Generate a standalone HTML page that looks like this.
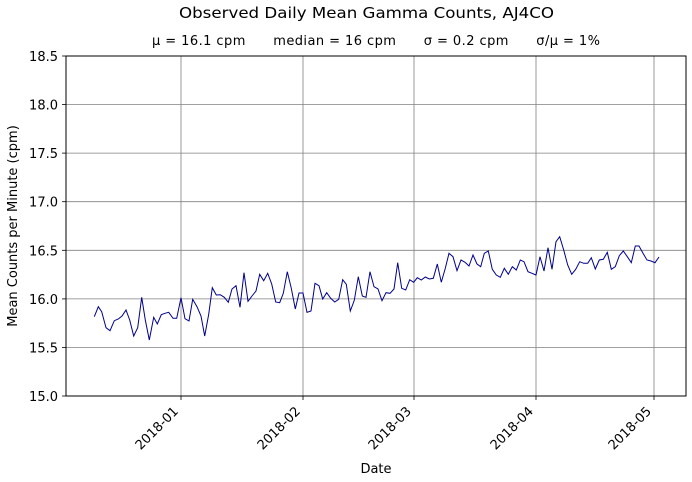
<!DOCTYPE html>
<html><head><meta charset="utf-8"><style>body{margin:0;background:#fff}svg{display:block;font-family:"DejaVu Sans","Liberation Sans",sans-serif}</style></head><body>
<svg width="692" height="482" viewBox="0 0 692 482">
<rect width="692" height="482" fill="#fff"/>
<text x="179" y="18" font-size="15.5" textLength="375" lengthAdjust="spacingAndGlyphs">Observed Daily Mean Gamma Counts, AJ4CO</text>
<text x="152" y="45" font-size="13" textLength="448" xml:space="preserve">μ = 16.1 cpm      median = 16 cpm      σ = 0.2 cpm      σ/μ = 1%</text>
<g stroke="#808080" stroke-width="0.8">
<line x1="66" x2="686" y1="104.6" y2="104.6"/><line x1="66" x2="686" y1="153.1" y2="153.1"/><line x1="66" x2="686" y1="201.7" y2="201.7"/><line x1="66" x2="686" y1="250.3" y2="250.3"/><line x1="66" x2="686" y1="298.9" y2="298.9"/><line x1="66" x2="686" y1="347.4" y2="347.4"/>
<line x1="181" x2="181" y1="56" y2="396"/><line x1="303" x2="303" y1="56" y2="396"/><line x1="414" x2="414" y1="56" y2="396"/><line x1="536" x2="536" y1="56" y2="396"/><line x1="654" x2="654" y1="56" y2="396"/>
</g>
<polyline fill="none" stroke="#00008b" stroke-width="1" points="94.3,316.7 98.3,306.7 101.7,311.7 106,327.7 110,330.7 114.3,320.7 118.3,319 122,316 126,310 129.7,320 133.7,336 137.7,327.7 141.7,297.3 145.3,320 149.3,340 153.7,317.3 157.3,324 161.3,314.7 165,313.3 168.7,312.3 173,318.3 176.7,318.3 181,297.7 185,318.7 189,321 192.7,299.3 197,306.7 201,316 204.7,336 208.7,314.3 212.3,287.7 216.3,295 220.3,294.7 224.3,297.3 228.3,302.3 232,289 236,285.7 240,307.3 244,272.7 248,301.3 252,296 256,291 259.7,274.3 263.7,280.7 267.7,273.3 271.7,284 275.7,302 279.7,302.7 283.3,293.3 287.3,271.7 291.3,288.3 295.3,309 299,293 303,293 307,312.3 311,311 315,283.3 319,285.7 322.7,299 326.7,292.7 330.7,298.3 334.7,302 338.7,299.3 342.7,279.7 346.3,284.3 350.3,311 354.3,300.3 358.3,276.7 362.3,296 366,297.3 370,271.7 374,286.7 378,289 382,300.7 386,292.7 390,293.3 394,289 397.7,262.7 401.7,288.3 405.7,290 409.7,279.7 413.7,282.3 417.3,277.7 421.3,280 425.3,277 429.3,279 433.3,278.3 437.3,264 441.3,282.3 445.3,268.3 449,253.3 453,256.7 457,270.7 461,260 465,262.3 469,266 473,255 477,264 480.7,266.7 484.3,253.3 488.3,251 492.3,269.3 496.3,275 500.3,277.3 504.3,268.3 508.3,274.3 512.3,266.7 516.3,270 520.3,260 524,261.7 528,271.7 532,273.3 536,275 540,256.7 544,271 548,247.7 552,269.3 556,241.7 559.7,236.7 563.7,250 567.7,265 571.7,274.3 575.7,269.3 579.7,261.7 583.7,263.3 587.7,263.3 591.3,257.7 595.3,269 599.3,260 603.3,259.3 607.3,252.3 611.3,269.3 615.3,266.7 619.3,255.7 623.3,251 627.3,256.7 631.3,262.7 635.3,246 639,246 643,253.3 647,260 651,261 655,262.7 659,257"/>
<rect x="66" y="56" width="620" height="340" fill="none" stroke="#000" stroke-width="1"/>
<g stroke="#000" stroke-width="0.8">
<line x1="62" x2="66" y1="56" y2="56"/><line x1="62" x2="66" y1="104.6" y2="104.6"/><line x1="62" x2="66" y1="153.1" y2="153.1"/><line x1="62" x2="66" y1="201.7" y2="201.7"/><line x1="62" x2="66" y1="250.3" y2="250.3"/><line x1="62" x2="66" y1="298.9" y2="298.9"/><line x1="62" x2="66" y1="347.4" y2="347.4"/><line x1="62" x2="66" y1="396" y2="396"/>
<line x1="181" x2="181" y1="396" y2="400"/><line x1="303" x2="303" y1="396" y2="400"/><line x1="414" x2="414" y1="396" y2="400"/><line x1="536" x2="536" y1="396" y2="400"/><line x1="654" x2="654" y1="396" y2="400"/>
</g>
<g font-size="13" text-anchor="end">
<text x="58" y="61">18.5</text><text x="58" y="109.6">18.0</text><text x="58" y="158.1">17.5</text><text x="58" y="206.7">17.0</text><text x="58" y="255.3">16.5</text><text x="58" y="303.9">16.0</text><text x="58" y="352.4">15.5</text><text x="58" y="401">15.0</text>
<text transform="translate(179,412) rotate(-45)">2018-01</text>
<text transform="translate(301,412) rotate(-45)">2018-02</text>
<text transform="translate(412,412) rotate(-45)">2018-03</text>
<text transform="translate(534,412) rotate(-45)">2018-04</text>
<text transform="translate(652,412) rotate(-45)">2018-05</text>
</g>
<text x="376" y="473" font-size="13" text-anchor="middle">Date</text>
<text transform="translate(17,226) rotate(-90)" font-size="13" text-anchor="middle">Mean Counts per Minute (cpm)</text>
</svg>
</body></html>
